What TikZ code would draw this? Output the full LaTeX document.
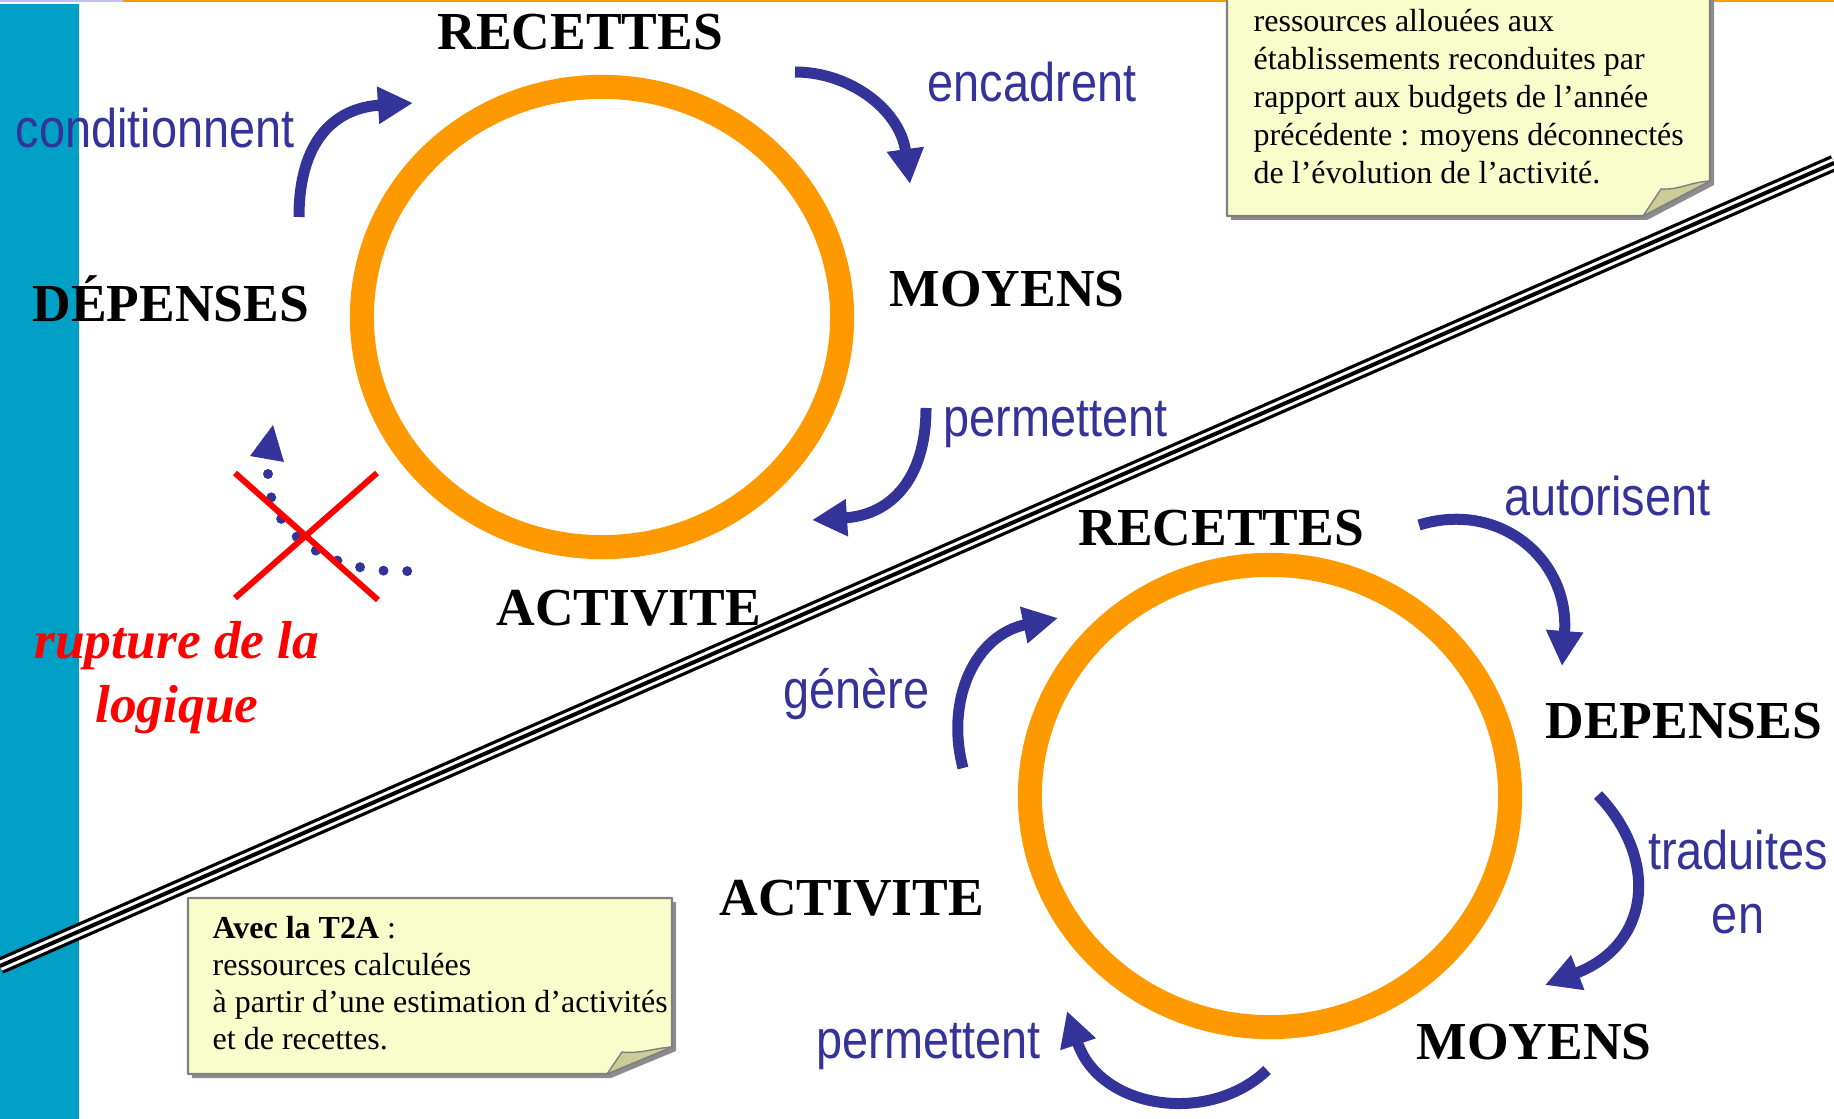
\documentclass[tikz,border=0pt]{standalone}
\usepackage{fontspec}
\setmainfont{Liberation Serif}
\newfontfamily\narrowsans[FakeStretch=0.86]{Liberation Sans}
\usetikzlibrary{arrows.meta}
\definecolor{barcyan}{RGB}{0,159,198}
\definecolor{ringorange}{RGB}{255,153,0}
\definecolor{arrowblue}{RGB}{51,51,153}
\definecolor{noteyellow}{RGB}{249,252,203}
\definecolor{notefold}{RGB}{204,204,153}
\definecolor{noteshadow}{RGB}{140,140,140}

\begin{document}
\begin{tikzpicture}[line join=round,>={Triangle[length=0.35cm,width=0.35cm]},x=0.01cm,y=-0.01cm,
  ring/.style={draw=ringorange,line width=0.24cm},
  flow/.style={draw=arrowblue,line width=0.11cm,->},
  boldlab/.style={font=\bfseries\fontsize{15.2}{18}\selectfont,inner sep=0pt,anchor=base west},
  verblab/.style={font=\narrowsans\fontsize{15.5}{18.3}\selectfont,text=arrowblue,inner sep=0pt,anchor=base west},
  notetext/.style={font=\fontsize{9.1}{10.8}\selectfont,inner sep=0pt,align=left,anchor=north west},
  notebox/.style={fill=noteyellow,draw=gray,line width=0.6pt}]
\useasboundingbox (0,0) rectangle (1834,1119);
\clip (0,0) rectangle (1834,1119);
% side band and top rule
\fill[barcyan] (0,4) rectangle (79,1119);
\draw[blue!25,line width=0.02cm] (0,1) -- (123,1);
\draw[ringorange,line width=0.02cm] (123,1) -- (1834,1);
% the two cycles
\coordinate (topC) at (602,317);
\coordinate (botC) at (1270,796);
\draw[ring] (topC) ellipse [x radius=2.40cm,y radius=2.30cm];
\draw[ring] (botC) ellipse [x radius=2.40cm,y radius=2.31cm];
% separating triple line
\coordinate (sepA) at (0,966);
\coordinate (sepB) at (1834,163);
\draw[line width=0.165cm] (sepA) -- (sepB);
\draw[white,line width=0.10cm] (sepA) -- (sepB);
\draw[line width=0.04cm] (sepA) -- (sepB);

% old logic
\node[boldlab] (recOld) at (437,50) {RECETTES};
\node[boldlab] (moyOld) at (889,307) {MOYENS};
\node[boldlab] (actOld) at (496,626) {ACTIVITE};
\node[boldlab] (depOld) at (32,322) {DÉPENSES};
\node[verblab] (condLab) at (15,148) {conditionnent};
\node[verblab] (encLab) at (927,102) {encadrent};
\node[verblab] (permOld) at (943,437) {permettent};
\coordinate (condS) at (299,217); \coordinate (condE) at (413,103);
\draw[flow] (condS) .. controls (299,140) and (335,108) .. (condE);
\coordinate (encS) at (795,72); \coordinate (encE) at (910,184);
\draw[flow] (encS) .. controls (850,72) and (900,110) .. (encE);
\coordinate (permOS) at (926,408); \coordinate (permOE) at (812,520);
\draw[flow] (permOS) .. controls (926,480) and (890,515) .. (permOE);
% broken link
\coordinate (brkS) at (268,474); \coordinate (brkE) at (410,571); \coordinate (brkTip) at (273,425);
\draw[arrowblue,line width=0.10cm,line cap=round,dash pattern=on 0pt off 0.237cm] (brkS) .. controls (268,540) and (340,575) .. (brkE);
\fill[arrowblue] (brkTip) -- (250,456) -- (284,462) -- cycle;
\draw[red,line width=0.06cm] (235,473) -- (378,600);
\draw[red,line width=0.06cm] (377,473) -- (235,598);
\node[font=\bfseries\itshape\fontsize{15.2}{18.1}\selectfont,text=red,align=center,inner sep=0pt,anchor=north] (rupLab) at (177,621) {rupture de la\\logique};
% note, old budgets
\fill[noteshadow] (1231,-5) -- (1714,-5) -- (1714,185) -- (1647,220) -- (1231,220) -- cycle;
\draw[notebox] (1227,-5) -- (1710,-5) -- (1710,181) -- (1643,216) -- (1227,216) -- cycle;
\draw[fill=notefold,draw=gray,line width=0.4pt] (1643,216) -- (1661,189) .. controls (1680,190) and (1690,182) .. (1710,181) -- cycle;
\node[notetext] (oldNote) at (1253,9) {ressources allouées aux\\établissements reconduites par\\rapport aux budgets de l’année\\précédente : moyens déconnectés\\de l’évolution de l’activité.};

% T2A logic
\node[boldlab] (recNew) at (1078,546) {RECETTES};
\node[boldlab] (depNew) at (1545,738) {DEPENSES};
\node[boldlab] (moyNew) at (1416,1059) {MOYENS};
\node[boldlab] (actNew) at (719,915) {ACTIVITE};
\node[verblab] (autLab) at (1504,516) {autorisent};
\node[verblab,anchor=north,align=center] (tradLab) at (1738,829) {traduites\\en};
\node[verblab] (permNew) at (816,1058) {permettent};
\node[verblab] (genLab) at (783,708) {génère};
\coordinate (autS) at (1419,525); \coordinate (autE) at (1562,666);
\draw[flow] (autS) .. controls (1500,500) and (1570,560) .. (autE);
\coordinate (tradS) at (1598,795); \coordinate (tradE) at (1545,985);
\draw[flow] (tradS) .. controls (1660,860) and (1650,945) .. (tradE);
\coordinate (permNS) at (1267,1070); \coordinate (permNE) at (1067,1011);
\draw[flow] (permNS) .. controls (1210,1125) and (1100,1110) .. (permNE);
\coordinate (genS) at (963,768); \coordinate (genE) at (1058,618);
\draw[flow] (genS) .. controls (945,700) and (975,635) .. (genE);
% note, T2A
\fill[noteshadow] (192,902) -- (676,902) -- (676,1051) -- (611,1078) -- (192,1078) -- cycle;
\draw[notebox] (188,898) -- (672,898) -- (672,1047) -- (607,1074) -- (188,1074) -- cycle;
\draw[fill=notefold,draw=gray,line width=0.4pt] (607,1074) -- (622,1052) .. controls (640,1054) and (655,1048) .. (672,1047) -- cycle;
\node[notetext,font=\fontsize{9.1}{10.45}\selectfont] (newNote) at (212,916) {\textbf{Avec la T2A} :\\ressources calculées\\à partir d’une estimation d’activités\\et de recettes.};
\end{tikzpicture}
\end{document}
